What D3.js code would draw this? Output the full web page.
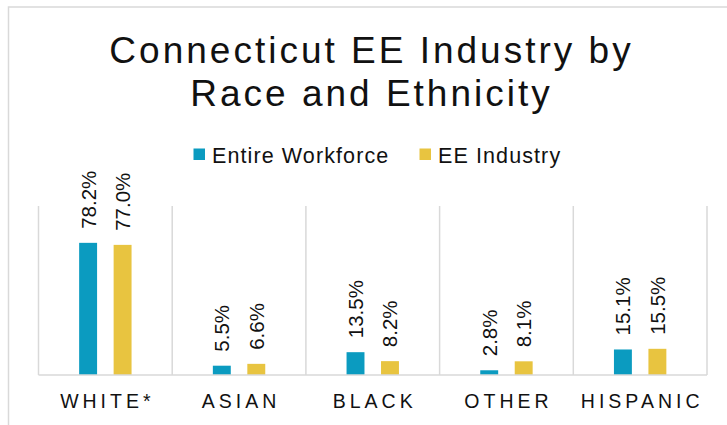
<!doctype html>
<html lang="en">
<head>
    <meta charset="UTF-8">
    <title>Connecticut EE Industry by Race and Ethnicity</title>
    <script src="https://d3js.org/d3.v7.min.js"></script>
    <style>
        body { margin: 0; background: #fff; }
        svg text { font-family: Arial, "Liberation Sans", sans-serif; }
    </style>
</head>
<body>
<div id="chart-area"></div>

<script>
const categories = ['WHITE*', 'ASIAN', 'BLACK', 'OTHER', 'HISPANIC'];
const seriesNames = ['Entire Workforce', 'EE Industry'];
const entireWorkforce = [78.2, 5.5, 13.5, 2.8, 15.1];
const eeIndustry = [77.0, 6.6, 8.2, 8.1, 15.5];
const colors = ['#0b9bc0', '#e8c440'];

const chartW = 727;
const chartH = 425;

const plot = { left: 38.5, right: 707, top: 206, bottom: 375 };

const svg = d3.select('#chart-area')
    .append('svg')
    .attr('width', chartW)
    .attr('height', chartH);

// chart frame (runs off the right and bottom of the picture)
svg.append('rect')
    .attr('x', 8.5)
    .attr('y', 7)
    .attr('width', 740)
    .attr('height', 440)
    .attr('fill', 'none')
    .attr('stroke', '#d9d9d9')
    .attr('stroke-width', 1.5);

// title
const title = svg.append('text')
    .attr('text-anchor', 'middle')
    .attr('font-size', 37)
    .attr('letter-spacing', 3)
    .attr('fill', '#111');
title.append('tspan').attr('x', 371.5).attr('y', 62.5).text('Connecticut EE Industry by');
title.append('tspan').attr('x', 371.5).attr('y', 106).text('Race and Ethnicity');

// legend
const legendX = [193.5, 419.5];
const legend = svg.selectAll('.legend')
    .data(seriesNames)
    .enter()
    .append('g')
    .attr('class', 'legend')
    .attr('transform', (d, i) => `translate(${legendX[i]},148.5)`);
legend.append('rect')
    .attr('width', 11.5)
    .attr('height', 11.5)
    .attr('fill', (d, i) => colors[i]);
legend.append('text')
    .attr('x', 18.5)
    .attr('y', 14)
    .attr('font-size', 21.5)
    .attr('letter-spacing', 1.1)
    .attr('fill', '#111')
    .text(d => d);

const x0 = d3.scaleBand()
    .domain(categories)
    .range([plot.left, plot.right]);

const x1 = d3.scaleBand()
    .domain(seriesNames)
    .range([x0.bandwidth() / 2 - 26.2, x0.bandwidth() / 2 + 26.2])
    .paddingInner(0.48);

const y = d3.scaleLinear()
    .domain([0, 100])
    .range([plot.bottom, plot.top]);

// vertical gridlines at category boundaries
const bounds = categories.map(c => x0(c)).concat([plot.right]);
svg.selectAll('.grid')
    .data(bounds)
    .enter()
    .append('line')
    .attr('x1', d => d)
    .attr('x2', d => d)
    .attr('y1', y(100))
    .attr('y2', y(0))
    .attr('stroke', '#d9d9d9')
    .attr('stroke-width', 1.5);

// bars
const rows = categories.map((c, i) => ({
    cat: c,
    vals: [entireWorkforce[i], eeIndustry[i]]
}));

const groups = svg.selectAll('.cat')
    .data(rows)
    .enter()
    .append('g')
    .attr('transform', d => `translate(${x0(d.cat)},0)`);

groups.selectAll('rect')
    .data(d => d.vals.map((v, j) => ({ key: seriesNames[j], v, j })))
    .enter()
    .append('rect')
    .attr('x', d => x1(d.key))
    .attr('y', d => y(d.v))
    .attr('width', x1.bandwidth())
    .attr('height', d => y(0) - y(d.v))
    .attr('fill', d => colors[d.j]);

groups.selectAll('.lbl')
    .data(d => d.vals.map((v, j) => ({ key: seriesNames[j], v, j })))
    .enter()
    .append('text')
    .attr('class', 'lbl')
    .attr('transform', d => `translate(${x1(d.key) + x1.bandwidth() / 2},${y(d.v) - 14}) rotate(-90)`)
    .attr('dominant-baseline', 'central')
    .attr('font-size', 20.5)
    .attr('fill', '#111')
    .text(d => d.v.toFixed(1) + '%');

// baseline
svg.append('line')
    .attr('x1', plot.left)
    .attr('x2', plot.right)
    .attr('y1', y(0))
    .attr('y2', y(0))
    .attr('stroke', '#d9d9d9')
    .attr('stroke-width', 1.5);

// category labels
svg.selectAll('.xlab')
    .data(categories)
    .enter()
    .append('text')
    .attr('class', 'xlab')
    .attr('x', d => x0(d) + x0.bandwidth() / 2 + 2)
    .attr('y', 407.5)
    .attr('text-anchor', 'middle')
    .attr('font-size', 19.5)
    .attr('letter-spacing', 4)
    .attr('fill', '#111')
    .text(d => d);
</script>

</body>
</html>
